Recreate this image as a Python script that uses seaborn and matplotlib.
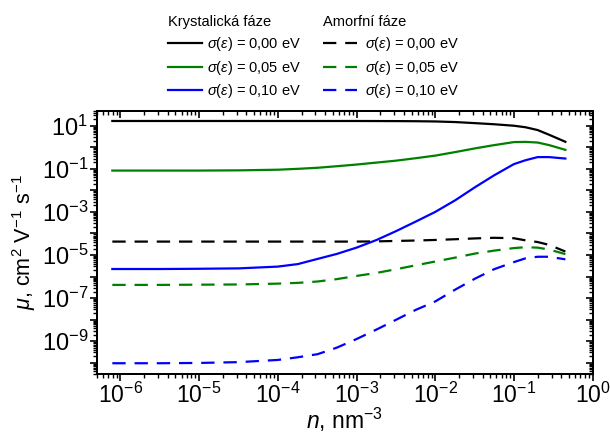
import numpy as np
import pandas as pd
import matplotlib
matplotlib.use('Agg')
import matplotlib.pyplot as plt
import seaborn as sns
from matplotlib.lines import Line2D
from matplotlib.ticker import LogLocator, NullFormatter

# carrier concentration n, nm^-3
n_values = [7.9e-7, 3.2e-6, 1e-5, 3.2e-5, 1e-4, 1.8e-4, 3.2e-4, 5.6e-4, 1e-3, 1.8e-3, 3.2e-3,
            5.6e-3, 1e-2, 1.8e-2, 3.2e-2, 5.6e-2, 0.1, 0.14, 0.2, 0.28, 0.45]

# crystalline phase mobility, cm2 V-1 s-1
cryst_000 = [16.6, 16.6, 16.6, 16.6, 16.6, 16.6, 16.6, 16.6, 16.6, 16.5, 16.4,
             16.2, 15.8, 14.8, 13.2, 11.7, 10.0, 8.5, 6.3, 3.8, 1.8]
cryst_005 = [0.083, 0.083, 0.083, 0.085, 0.091, 0.1, 0.112, 0.132, 0.158, 0.195, 0.24,
             0.31, 0.41, 0.6, 0.89, 1.26, 1.74, 1.78, 1.66, 1.26, 0.76]
cryst_010 = [2.24e-6, 2.24e-6, 2.3e-6, 2.4e-6, 2.9e-6, 3.8e-6, 6.6e-6, 1.12e-5, 2.2e-5, 5e-5, 1.3e-4,
             3.5e-4, 1e-3, 3.5e-3, 1.4e-2, 0.05, 0.166, 0.25, 0.35, 0.35, 0.3]

# amorphous phase mobility
amorf_000 = [4.2e-5, 4.2e-5, 4.2e-5, 4.2e-5, 4.2e-5, 4.2e-5, 4.2e-5, 4.2e-5, 4.2e-5, 4.3e-5, 4.5e-5,
             4.7e-5, 5e-5, 5.4e-5, 5.9e-5, 6.3e-5, 6e-5, 4.8e-5, 4e-5, 2.95e-5, 1.45e-5]
amorf_005 = [4.1e-7, 4.1e-7, 4.2e-7, 4.3e-7, 4.7e-7, 5.1e-7, 5.9e-7, 7.6e-7, 1.07e-6, 1.48e-6, 2.2e-6,
             3.3e-6, 5e-6, 7.6e-6, 1.17e-5, 1.6e-5, 2.1e-5, 2.3e-5, 2.2e-5, 1.8e-5, 1.1e-5]
amorf_010 = [9.5e-11, 9.5e-11, 9.8e-11, 1.07e-10, 1.35e-10, 1.8e-10, 2.5e-10, 5e-10, 1.26e-9, 3.5e-9, 1e-8,
             2.8e-8, 7e-8, 2.5e-7, 8e-7, 2.2e-6, 4.7e-6, 7e-6, 8.3e-6, 8.3e-6, 6.3e-6]

sigma_labels = ['0,00', '0,05', '0,10']
colors = ['black', '#008000', '#0000ff']

plt.rcParams['font.family'] = ['Liberation Sans', 'DejaVu Sans']
plt.rcParams['mathtext.fontset'] = 'custom'
plt.rcParams['mathtext.rm'] = 'Liberation Sans'
plt.rcParams['mathtext.it'] = 'Liberation Sans:italic'
plt.rcParams['mathtext.default'] = 'regular'

fig = plt.figure(figsize=(6.1, 4.34), dpi=100)
ax = fig.add_axes([0.1585, 0.1382, 0.8131, 0.6068])

cryst = [cryst_000, cryst_005, cryst_010]
amorf = [amorf_000, amorf_005, amorf_010]

cryst_handles = []
amorf_handles = []
for i in range(3):
    df = pd.DataFrame({'n': n_values, 'mu': cryst[i]})
    sns.lineplot(data=df, x='n', y='mu', color=colors[i], lw=1.6, ax=ax)
    df = pd.DataFrame({'n': n_values, 'mu': amorf[i]})
    sns.lineplot(data=df, x='n', y='mu', color=colors[i], lw=1.6, ax=ax)
    ax.lines[-1].set_dashes([6, 4])
    lab = r'$\mathit{\sigma(\varepsilon)}$ = ' + sigma_labels[i] + ' eV'
    cryst_handles.append(Line2D([], [], color=colors[i], lw=1.6, label=lab))
    amorf_handles.append(Line2D([], [], color=colors[i], lw=1.6, dashes=[6, 4], label=lab))

ax.set_xscale('log')
ax.set_yscale('log')
ax.set_xlim(5e-7, 1)
ax.set_ylim(3e-11, 50)

xdec = list(range(-6, 1))
ax.set_xticks([10.0 ** k for k in xdec])
ax.set_xticklabels([r'$10^{%d}$' % k for k in xdec])
ydec = list(range(-10, 2))
ax.set_yticks([10.0 ** k for k in ydec])
ax.set_yticklabels([r'$10^{%d}$' % k if k % 2 else '' for k in ydec])
ax.xaxis.set_minor_locator(LogLocator(base=10, subs=np.arange(2, 10), numticks=20))
ax.yaxis.set_minor_locator(LogLocator(base=10, subs=np.arange(2, 10), numticks=30))
ax.xaxis.set_minor_formatter(NullFormatter())
ax.yaxis.set_minor_formatter(NullFormatter())
ax.tick_params(which='major', direction='out', length=5, width=1.2, labelsize=17, pad=1)
ax.tick_params(axis='x', labelsize=16.5)
ax.tick_params(which='minor', direction='out', length=3, width=1)

# mirrored ticks on top and right, pointing inward
axr = ax.twinx()
axr.set_yscale('log')
axr.set_ylim(ax.get_ylim())
axr.set_yticks([10.0 ** k for k in ydec])
axr.yaxis.set_minor_locator(LogLocator(base=10, subs=np.arange(2, 10), numticks=30))
axr.tick_params(which='both', direction='in', labelright=False)
axr.tick_params(which='major', length=5, width=1.2)
axr.tick_params(which='minor', length=3, width=1)
axt = ax.twiny()
axt.set_xscale('log')
axt.set_xlim(ax.get_xlim())
axt.set_xticks([10.0 ** k for k in xdec])
axt.xaxis.set_minor_locator(LogLocator(base=10, subs=np.arange(2, 10), numticks=20))
axt.tick_params(which='both', direction='in', labeltop=False)
axt.tick_params(which='major', length=5, width=1.2)
axt.tick_params(which='minor', length=3, width=1)

for a in (ax, axr, axt):
    for s in a.spines.values():
        s.set_linewidth(1.3)

ax.set_xlabel(r'$\mathit{n}$, nm$^{-3}$', fontsize=16.5, labelpad=-1.5)
ax.set_ylabel(r'$\mathit{\mu}$, cm$^{2}$ V$^{-1}$ s$^{-1}$', fontsize=15.5, labelpad=3)

leg_kw = dict(loc='upper left', frameon=False, fontsize=10.5, title_fontsize=10.5,
              handlelength=2.3, labelspacing=0.4, borderpad=0, borderaxespad=0,
              alignment='left')
leg1 = fig.legend(handles=cryst_handles, title='Krystalická fáze',
                  bbox_to_anchor=(168 / 610, 1 - 15 / 434), handletextpad=0.4, **leg_kw)
leg2 = fig.legend(handles=amorf_handles, title='Amorfní fáze',
                  bbox_to_anchor=(323 / 610, 1 - 15 / 434), handletextpad=0.6, **leg_kw)

fig.savefig('out.png', dpi=100)
